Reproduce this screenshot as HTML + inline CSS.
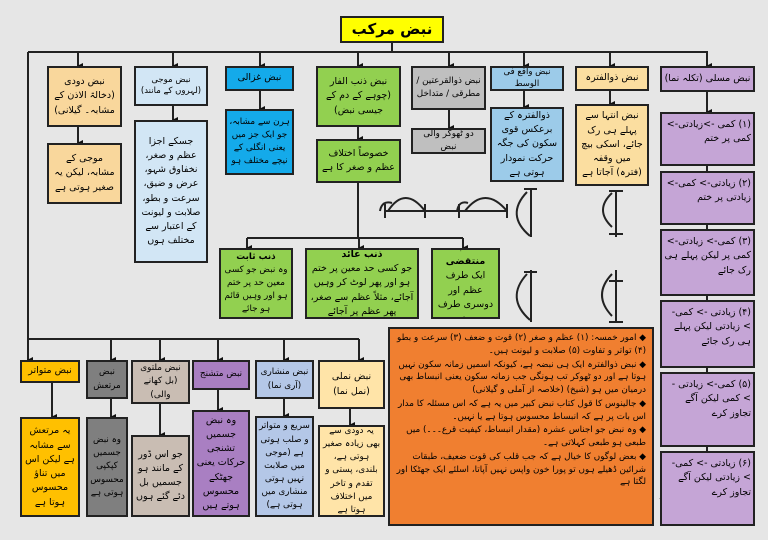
<!DOCTYPE html>
<html><head><meta charset="utf-8"><style>
body{margin:0;background:#e6e6e6;}
#c{position:relative;width:768px;height:540px;overflow:hidden;background:#e6e6e6;font-family:"DejaVu Sans",sans-serif;}
.b{position:absolute;border:2px solid #222;box-sizing:border-box;display:flex;align-items:center;justify-content:center;text-align:center;direction:rtl;font-size:9.5px;line-height:1.5;color:#000;padding:1px 2px;overflow:hidden}
.s{font-size:8.8px}
.xs{font-size:8.5px;line-height:1.35}
.m{align-items:flex-start;padding-top:4px;text-align:right;justify-content:flex-start}
svg{position:absolute;left:0;top:0}
.or p{margin:0 0 1px 0}
</style></head><body><div id="c">
<svg width="768" height="540">
<defs><marker id="a" markerWidth="6" markerHeight="6" refX="3" refY="5" orient="auto-start-reverse" markerUnits="userSpaceOnUse"><path d="M0,0 L6,0 L3,6z" fill="#111"/></marker></defs>
<g stroke="#222" stroke-width="2" fill="none">
<line x1="392" y1="42" x2="392" y2="52"/>
<line x1="28" y1="52" x2="708" y2="52"/>
<g marker-end="url(#a)">
<line x1="78" y1="52" x2="78" y2="66"/><line x1="173" y1="52" x2="173" y2="66"/><line x1="260" y1="52" x2="260" y2="66"/><line x1="358" y1="52" x2="358" y2="66"/><line x1="449" y1="52" x2="449" y2="66"/><line x1="524" y1="52" x2="524" y2="66"/><line x1="610" y1="52" x2="610" y2="66"/><line x1="707" y1="52" x2="707" y2="66"/>
<line x1="78" y1="126" x2="78" y2="143"/><line x1="173" y1="106" x2="173" y2="120"/><line x1="260" y1="90" x2="260" y2="109"/><line x1="358" y1="126" x2="358" y2="139"/><line x1="449" y1="109" x2="449" y2="128"/><line x1="524" y1="91" x2="524" y2="107"/><line x1="610" y1="90" x2="610" y2="104"/><line x1="707" y1="91" x2="707" y2="112"/>
<line x1="247" y1="238" x2="247" y2="248"/><line x1="359" y1="238" x2="359" y2="248"/><line x1="463" y1="238" x2="463" y2="248"/>
<line x1="28" y1="339" x2="28" y2="360"/><line x1="111" y1="339" x2="111" y2="360"/><line x1="160" y1="339" x2="160" y2="360"/><line x1="218" y1="339" x2="218" y2="360"/><line x1="284" y1="339" x2="284" y2="360"/><line x1="359" y1="339" x2="359" y2="360"/>
<line x1="52" y1="382" x2="52" y2="417"/><line x1="111" y1="398" x2="111" y2="417"/><line x1="160" y1="403" x2="160" y2="435"/><line x1="218" y1="389" x2="218" y2="410"/><line x1="284" y1="398" x2="284" y2="416"/><line x1="350" y1="408" x2="350" y2="425"/>
</g>
<line x1="707" y1="165" x2="707" y2="171"/><line x1="707" y1="224" x2="707" y2="229"/><line x1="707" y1="295" x2="707" y2="300"/><line x1="707" y1="367" x2="707" y2="372"/><line x1="707" y1="446" x2="707" y2="451"/>
<line x1="358" y1="182" x2="358" y2="238"/><line x1="247" y1="238" x2="463" y2="238"/>
<line x1="28" y1="52" x2="28" y2="339"/><line x1="28" y1="339" x2="359" y2="339"/>
<line x1="385" y1="211" x2="507" y2="211"/><line x1="385" y1="204" x2="385" y2="218"/><line x1="425" y1="204" x2="425" y2="218"/><line x1="459" y1="204" x2="459" y2="218"/><line x1="507" y1="204" x2="507" y2="218"/>
<path d="M380,211 Q382,200 392,203 M388,211 Q405,185 425,211"/><path d="M457,211 Q459,200 468,203 M465,211 Q485,185 507,211"/>
<line x1="531" y1="188" x2="531" y2="237"/><line x1="524" y1="189" x2="537" y2="189"/><path d="M527,192 Q505,215 530,236"/>
<line x1="531" y1="270" x2="531" y2="322"/><line x1="524" y1="272" x2="537" y2="272"/><path d="M527,274 Q505,298 530,320"/>
<line x1="616" y1="190" x2="616" y2="237"/><line x1="609" y1="191" x2="623" y2="191"/><line x1="609" y1="234" x2="623" y2="234"/><path d="M612,193 Q594,210 612,227"/>
<line x1="616" y1="270" x2="616" y2="322"/><line x1="609" y1="281" x2="623" y2="281"/><line x1="609" y1="322" x2="623" y2="322"/><path d="M612,274 Q592,295 612,316"/>
<line x1="665" y1="152" x2="748" y2="152"/><line x1="665" y1="145" x2="665" y2="159"/><line x1="748" y1="145" x2="748" y2="159"/><path d="M667,152 Q706,120 746,152"/>
<line x1="665" y1="212" x2="748" y2="212"/><line x1="665" y1="198" x2="665" y2="218"/><line x1="748" y1="198" x2="748" y2="218"/><path d="M667,200 Q706,228 746,200"/>
<line x1="665" y1="281" x2="748" y2="281"/><line x1="665" y1="274" x2="665" y2="288"/><line x1="748" y1="274" x2="748" y2="288"/><path d="M675,281 Q706,258 740,281"/>
<line x1="665" y1="358" x2="748" y2="358"/><line x1="665" y1="351" x2="665" y2="365"/><line x1="748" y1="340" x2="748" y2="365"/><path d="M680,342 Q712,372 746,342"/>
<line x1="670" y1="432" x2="745" y2="432"/><line x1="670" y1="425" x2="670" y2="439"/><line x1="745" y1="425" x2="745" y2="439"/><path d="M662,432 Q706,405 752,432"/>
<line x1="672" y1="510" x2="745" y2="510"/><line x1="672" y1="500" x2="672" y2="517"/><line x1="745" y1="500" x2="745" y2="517"/><path d="M660,498 Q706,525 752,498"/>
</g>
<g stroke="#222" stroke-width="1.5" stroke-dasharray="2,2"><line x1="680" y1="335" x2="680" y2="362"/><line x1="662" y1="495" x2="662" y2="512"/></g>
</svg>

<div class="b" style="left:340px;top:16px;width:104px;height:27px;background:#ffff00;font-size:15px;font-weight:bold">نبض مرکب</div>

<div class="b" style="left:47px;top:66px;width:75px;height:61px;background:#f9d79c">نبض دودی (دخالۃ الاذن کے مشابہ۔ گیلانی)</div>
<div class="b" style="left:47px;top:143px;width:75px;height:61px;background:#f9d79c">موجی کے مشابہ، لیکن یہ صغیر ہوتی ہے</div>
<div class="b xs" style="left:134px;top:66px;width:74px;height:40px;background:#d2e6f5">نبض موجی (لہروں کے مانند)</div>
<div class="b" style="left:134px;top:120px;width:74px;height:143px;background:#d2e6f5">جسکے اجزا عظم و صغر، نخفاوق شہو، عرض و ضیق، سرعت و بطو، صلابت و لیونت کے اعتبار سے مختلف ہوں</div>
<div class="b" style="left:225px;top:66px;width:69px;height:25px;background:#14aaea">نبض غزالی</div>
<div class="b s" style="left:225px;top:109px;width:69px;height:66px;background:#14aaea">ہرن سے مشابہ، جو ایک جز میں یعنی انگلی کے نیچے مختلف ہو</div>
<div class="b" style="left:316px;top:66px;width:85px;height:61px;background:#92d050">نبض ذنب الفار (چوہے کے دم کے جیسی نبض)</div>
<div class="b" style="left:316px;top:139px;width:85px;height:44px;background:#92d050">خصوصاً اختلاف عظم و صغر کا ہے</div>
<div class="b s" style="left:411px;top:66px;width:75px;height:44px;background:#bfbfbf">نبض ذوالقرعتین / مطرقی / متداخل</div>
<div class="b s" style="left:411px;top:128px;width:75px;height:26px;background:#bfbfbf">دو ٹھوکر والی نبض</div>
<div class="b xs" style="left:490px;top:66px;width:74px;height:25px;background:#9ccbe9">نبض واقع فی الوسط</div>
<div class="b" style="left:490px;top:107px;width:74px;height:75px;background:#9ccbe9">ذوالفترہ کے برعکس قوی سکون کی جگہ حرکت نمودار ہوتی ہے</div>
<div class="b" style="left:575px;top:66px;width:74px;height:25px;background:#fbdea0">نبض ذوالفترہ</div>
<div class="b" style="left:575px;top:104px;width:74px;height:82px;background:#fbdea0">نبض انتہا سے پہلے ہی رک جائے، اسکی بیچ میں وقفہ (فترہ) آجاتا ہے</div>
<div class="b" style="left:660px;top:66px;width:95px;height:26px;background:#c5a5d6">نبض مسلی (تکلہ نما)</div>
<div class="b m" style="left:660px;top:112px;width:95px;height:54px;background:#c5a5d6">(۱) کمی ->زیادتی-> کمی پر ختم</div>
<div class="b m" style="left:660px;top:171px;width:95px;height:54px;background:#c5a5d6">(۲) زیادتی-> کمی-> زیادتی پر ختم</div>
<div class="b m" style="left:660px;top:229px;width:95px;height:67px;background:#c5a5d6">(۳) کمی-> زیادتی-> کمی پر لیکن پہلے ہی رک جائے</div>
<div class="b m" style="left:660px;top:300px;width:95px;height:68px;background:#c5a5d6">(۴) زیادتی -> کمی-> زیادتی لیکن پہلے ہی رک جائے</div>
<div class="b m" style="left:660px;top:372px;width:95px;height:75px;background:#c5a5d6">(۵) کمی-> زیادتی -> کمی لیکن آگے تجاوز کرے</div>
<div class="b m" style="left:660px;top:451px;width:95px;height:75px;background:#c5a5d6">(۶) زیادتی -> کمی-> زیادتی لیکن آگے تجاوز کرے</div>

<div class="b s" style="left:219px;top:248px;width:74px;height:71px;background:#92d050"><div><b>ذنب ثابت</b><br>وہ نبض جو کسی معین حد پر ختم ہو اور وہیں قائم ہو جائے</div></div>
<div class="b" style="left:305px;top:248px;width:114px;height:71px;background:#92d050"><div><b>ذنب عائد</b><br>جو کسی حد معین پر ختم ہو اور پھر لوٹ کر وہیں آجائے، مثلاً عظم سے صغر، پھر عظم پر آجائے</div></div>
<div class="b" style="left:431px;top:248px;width:69px;height:71px;background:#92d050"><div><b>ذنب منتقضی</b><br>ایک طرف عظم اور دوسری طرف صغر</div></div>

<div class="b" style="left:20px;top:360px;width:60px;height:23px;background:#ffc000">نبض متواتر</div>
<div class="b" style="left:20px;top:417px;width:60px;height:100px;background:#ffc000">یہ مرتعش سے مشابہ ہے لیکن اس میں تناؤ محسوس ہوتا ہے</div>
<div class="b s" style="left:86px;top:360px;width:42px;height:39px;background:#7f7f7f">نبض مرتعش</div>
<div class="b s" style="left:86px;top:417px;width:42px;height:100px;background:#7f7f7f">وہ نبض جسمیں کپکپی محسوس ہوتی ہے</div>
<div class="b s" style="left:131px;top:360px;width:59px;height:44px;background:#c9bdb3">نبض ملتوی (بل کھانے والی)</div>
<div class="b" style="left:131px;top:435px;width:59px;height:82px;background:#c9bdb3">جو اس ڈور کے مانند ہو جسمیں بل دئے گئے ہوں</div>
<div class="b s" style="left:192px;top:360px;width:58px;height:30px;background:#a97fc2">نبض متشنج</div>
<div class="b" style="left:192px;top:410px;width:58px;height:107px;background:#a97fc2">وہ نبض جسمیں تشنجی حرکات یعنی جھٹکے محسوس ہوتے ہیں</div>
<div class="b s" style="left:255px;top:360px;width:59px;height:39px;background:#b4c7e7">نبض منشاری (آری نما)</div>
<div class="b s" style="left:255px;top:416px;width:59px;height:101px;background:#b4c7e7">سریع و متواتر و صلب ہوتی ہے (موجی میں صلابت نہیں ہوتی منشاری میں ہوتی ہے)</div>
<div class="b" style="left:318px;top:360px;width:67px;height:49px;background:#ffe4a8">نبض نملی (نمل نما)</div>
<div class="b s" style="left:318px;top:425px;width:67px;height:92px;background:#ffe4a8">یہ دودی سے بھی زیادہ صغیر ہوتی ہے، بلندی، پستی و تقدم و تاخر میں اختلاف ہوتا ہے</div>

<div class="b or" style="left:388px;top:327px;width:266px;height:199px;background:#f07f30;display:block;text-align:right;font-size:8.8px;line-height:1.45;padding:3px 6px">
<p>◆ امور خمسہ: (۱) عظم و صغر (۲) قوت و ضعف (۳) سرعت و بطو (۴) تواتر و تفاوت (۵) صلابت و لیونت ہیں۔</p>
<p>◆ نبض ذوالفترہ ایک ہی نبضہ ہے، کیونکہ اسمیں زمانہ سکون نہیں ہوتا ہے اور دو ٹھوکر تب ہونگی جب زمانہ سکون یعنی انبساط بھی درمیان میں ہو (شیخ) (خلاصہ از آملی و گیلانی)</p>
<p>◆ جالینوس کا قول کتاب نبض کبیر میں یہ ہے کہ اس مسئلہ کا مدار اس بات پر ہے کہ انبساط محسوس ہوتا ہے یا نہیں۔</p>
<p>◆ وہ نبض جو اجناس عشرہ (مقدار انبساط، کیفیت قرع۔۔۔) میں طبعی ہو طبعی کہلاتی ہے۔</p>
<p>◆ بعض لوگوں کا خیال ہے کہ جب قلب کی قوت ضعیف، طبقات شرائین ڈھیلے ہوں تو پورا خون واپس نہیں آپاتا، اسلئے ایک جھٹکا اور لگتا ہے</p>
</div>
</div></body></html>
